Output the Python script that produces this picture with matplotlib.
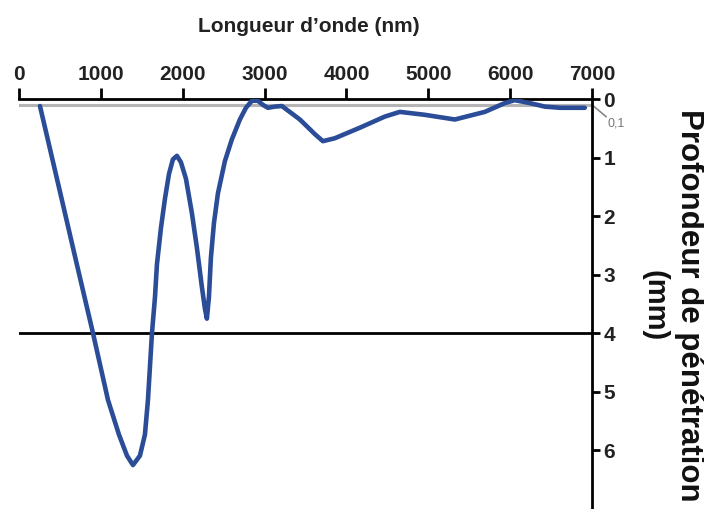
import matplotlib
matplotlib.use("Agg")
import matplotlib.pyplot as plt

wavelength = [256, 500, 696, 904, 1087, 1221, 1319, 1392, 1477, 1538, 1575,
              1624, 1661, 1685, 1734, 1783, 1832, 1880, 1929, 1978, 2039,
              2112, 2173, 2234, 2271, 2295, 2320, 2344, 2381, 2430, 2515,
              2600, 2698, 2772, 2845, 2918, 2979, 3040, 3126, 3211, 3431,
              3614, 3712, 3858, 4164, 4469, 4652, 4957, 5324, 5690, 5934,
              6056, 6240, 6423, 6606, 6911]
depth = [0.12, 1.58, 2.76, 4.0, 5.14, 5.73, 6.09, 6.25, 6.09, 5.73, 5.14,
         4.0, 3.38, 2.82, 2.2, 1.7, 1.28, 1.03, 0.97, 1.08, 1.36,
         1.95, 2.54, 3.21, 3.58, 3.75, 3.38, 2.71, 2.12, 1.61, 1.06,
         0.69, 0.35, 0.15, 0.03, 0.03, 0.1, 0.15, 0.13, 0.12, 0.35,
         0.6, 0.72, 0.67, 0.49, 0.3, 0.22, 0.27, 0.35, 0.22, 0.07,
         0.02, 0.07, 0.13, 0.15, 0.15]

x_ticks = [0, 1000, 2000, 3000, 4000, 5000, 6000, 7000]
y_ticks = [0, 1, 2, 3, 4, 5, 6]
ref_depth = 4
surface_depth = 0.1

plt.rcParams['font.family'] = ['Liberation Sans', 'DejaVu Sans']

fig = plt.figure(figsize=(7.04, 5.09), dpi=100)
ax = fig.add_axes([0.027, 0.0, 0.814, 0.8055])

ax.plot(wavelength, depth, color="#2b4c97", lw=3.3, solid_capstyle="round",
        solid_joinstyle="round", zorder=3)

# reference lines
ax.axhline(ref_depth, color="black", lw=2, zorder=2)
ax.axhline(surface_depth, color="#b5b5b5", lw=2.2, zorder=1)

ax.set_xlim(0, 7000)
ax.set_ylim(7, 0)

ax.xaxis.tick_top()
ax.yaxis.tick_right()
ax.set_xticks(x_ticks)
ax.set_yticks(y_ticks)
ax.tick_params(axis="x", direction="out", length=8, width=2, pad=3,
               labelsize=15)
ax.tick_params(axis="y", direction="out", length=6, width=2, pad=2,
               labelsize=15)
for lab in ax.get_xticklabels() + ax.get_yticklabels():
    lab.set_fontweight("bold")
    lab.set_color("#222222")

for side in ["left", "bottom"]:
    ax.spines[side].set_visible(False)
ax.spines["top"].set_linewidth(2)
ax.spines["right"].set_linewidth(2)

# small 0,1 annotation
ax.plot([7000, 7170], [surface_depth, 0.3], color="#888888", lw=1.2, clip_on=False)
ax.text(7190, 0.42, "0,1", fontsize=9, color="#777777", va="center", ha="left",
        clip_on=False)

fig.text(0.439, 0.947, "Longueur d\u2019onde (nm)", ha="center", va="center",
         fontsize=15, fontweight="bold", color="#222222")
fig.text(0.978, 0.40, "Profondeur de pénétration", rotation=-90, ha="center",
         va="center", fontsize=22.5, fontweight="bold", color="#111111")
fig.text(0.93, 0.40, "(mm)", rotation=-90, ha="center", va="center",
         fontsize=21, fontweight="bold", color="#111111")

fig.savefig("out.png", dpi=100)
